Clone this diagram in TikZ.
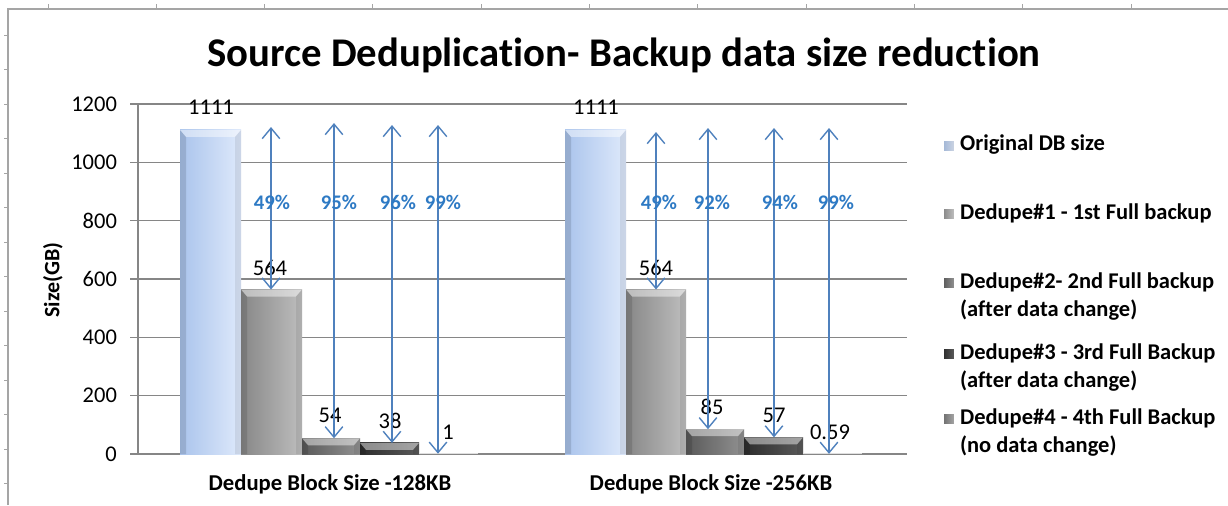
\documentclass[tikz,border=0pt]{standalone}
\usepackage{fontspec}
\setmainfont{Carlito}[Ligatures=NoCommon]
\usetikzlibrary{arrows.meta}
\definecolor{gridcol}{RGB}{134,134,134}
\definecolor{framecol}{RGB}{165,165,165}
\definecolor{arrcol}{RGB}{79,129,189}
\definecolor{pctcol}{RGB}{46,122,196}
\definecolor{origL}{RGB}{170,196,236}
\definecolor{origR}{RGB}{222,233,251}
\definecolor{ddaL}{RGB}{135,135,135}
\definecolor{ddaR}{RGB}{190,190,190}
\definecolor{ddbL}{RGB}{90,90,90}
\definecolor{ddbR}{RGB}{145,145,145}
\definecolor{ddcL}{RGB}{45,45,45}
\definecolor{ddcR}{RGB}{90,90,90}
\definecolor{dddL}{RGB}{110,110,110}
\definecolor{dddR}{RGB}{165,165,165}
\tikzstyle{grid}=[gridcol, line width=0.7pt]
\tikzstyle{tick}=[font=\fontsize{12.8}{14}\selectfont, inner sep=1pt]
\tikzstyle{val}=[font=\fontsize{12.8}{14}\selectfont, inner sep=1pt]
\tikzstyle{pct}=[text=pctcol, font=\fontsize{11.8}{14}\selectfont\bfseries, inner sep=1pt]
\tikzstyle{cat}=[font=\fontsize{12.9}{14}\selectfont\bfseries, inner sep=1pt]
\tikzstyle{legtext}=[font=\fontsize{12.8}{15.9}\selectfont\bfseries, align=left, anchor=west, inner sep=1pt]
\tikzstyle{dedarrow}=[arrcol, line width=0.8pt, {Straight Barb[length=6pt,width=10pt]}-{Straight Barb[length=6pt,width=10pt]}]
% one bar: name, left x, right x, value, left colour, right colour
\newcommand{\chartbar}[6]{%
  \pgfmathsetmacro{\ytop}{454-#4*0.291667}
  \shade[left color=#5, right color=#6] (#2,454) rectangle (#3,\ytop);
  \fill[white, opacity=0.45] (#2,\ytop) -- (#3,\ytop) -- ({#3-6},{\ytop+7}) -- ({#2+6},{\ytop+7}) -- cycle;
  \fill[black, opacity=0.12] (#2,\ytop) -- ({#2+6},{\ytop+7}) -- ({#2+6},454) -- (#2,454) -- cycle;
  \fill[black, opacity=0.08] (#3,\ytop) -- ({#3-6},{\ytop+7}) -- ({#3-6},454) -- (#3,454) -- cycle;
  \coordinate (#1) at ({(#2+#3)/2},\ytop);
}
% one legend key: name, y, left colour, right colour
\newcommand{\legkey}[4]{%
  \shade[left color=#3, right color=#4, draw=white, line width=0.4pt] (943,{#2-5}) rectangle (954,{#2+6});
  \coordinate (#1) at (958,#2);
}

\begin{document}
\begin{tikzpicture}[x=0.02cm, y=-0.02cm]
\useasboundingbox (0,0) rectangle (1228,505);

% page frame with ruler ticks
\draw[framecol, line width=1pt] (8,505) -- (8,9) -- (1228,9);
\foreach \k in {0,...,10} \draw[framecol, line width=0.5pt] ({48+108.3*\k},9) -- ({48+108.3*\k},4);
\foreach \k in {0,...,13} \draw[framecol, line width=0.5pt] (8,{35+34.5*\k}) -- (4,{35+34.5*\k});

\node[font=\fontsize{23.2}{26}\selectfont\bfseries] (title) at (624,55) {Source Deduplication- Backup data size reduction};

% grid and axis
\foreach \v [count=\i] in {0,200,...,1200} {
  \draw[grid] (130,{454-\v*0.291667}) -- (907,{454-\v*0.291667});
  \node[tick, anchor=east] (tk\i) at (119,{454-\v*0.291667}) {\v};
}
\draw[grid] (138,104) -- (138,454);
\node[rotate=90, font=\fontsize{12.5}{14}\selectfont\bfseries] (ylab) at (53,280) {Size(GB)};

% bars, 128KB
\chartbar{ga1}{180}{241}{1111}{origL}{origR}
\chartbar{ga2}{241}{302}{564}{ddaL}{ddaR}
\chartbar{ga3}{302}{360}{54}{ddbL}{ddbR}
\chartbar{ga4}{360}{419}{38}{ddcL}{ddcR}
\draw[gray!25, line width=1pt] (419,453.5) -- (478,453.5);
\coordinate (ga5) at (448,453.7);
% bars, 256KB
\chartbar{gb1}{565}{626}{1111}{origL}{origR}
\chartbar{gb2}{626}{686}{564}{ddaL}{ddaR}
\chartbar{gb3}{686}{744}{85}{ddbL}{ddbR}
\chartbar{gb4}{744}{803}{57}{ddcL}{ddcR}
\draw[gray!25, line width=1pt] (803,453.5) -- (862,453.5);
\coordinate (gb5) at (832,453.8);

% value labels
\node[val] (va1) at (211,107) {1111};
\node[val] (va2) at (270,268) {564};
\node[val] (va3) at (330,415) {54};
\node[val] (va4) at (390,421) {38};
\node[val] (va5) at (448,432) {1};
\node[val] (vb1) at (596,107) {1111};
\node[val] (vb2) at (656,268) {564};
\node[val] (vb3) at (712,407) {85};
\node[val] (vb4) at (774,415) {57};
\node[val] (vb5) at (830,432) {0.59};

% reduction arrows
\coordinate (ua2) at (271,127);
\coordinate (ua3) at (334,123);
\coordinate (ua4) at (392,125);
\coordinate (ua5) at (438,125);
\coordinate (ub2) at (656,132);
\coordinate (ub3) at (708,128);
\coordinate (ub4) at (774,128);
\coordinate (ub5) at (829,128);
\draw[dedarrow] (ua2) -- (ua2 |- ga2);
\draw[dedarrow] (ua3) -- (ua3 |- ga3);
\draw[dedarrow] (ua4) -- (ua4 |- ga4);
\draw[dedarrow] (ua5) -- (ua5 |- ga5);
\draw[dedarrow] (ub2) -- (ub2 |- gb2);
\draw[dedarrow] (ub3) -- (ub3 |- gb3);
\draw[dedarrow] (ub4) -- (ub4 |- gb4);
\draw[dedarrow] (ub5) -- (ub5 |- gb5);
\node[pct] (pa2) at (272,202) {49\%};
\node[pct] (pa3) at (339,202) {95\%};
\node[pct] (pa4) at (398,202) {96\%};
\node[pct] (pa5) at (443,202) {99\%};
\node[pct] (pb2) at (659,202) {49\%};
\node[pct] (pb3) at (712,202) {92\%};
\node[pct] (pb4) at (780,202) {94\%};
\node[pct] (pb5) at (836,202) {99\%};

% category labels
\node[cat] (cata) at (330,484) {Dedupe Block Size -128KB};
\node[cat] (catb) at (711,484) {Dedupe Block Size -256KB};

% legend
\legkey{ka}{145}{origL!80!gray}{origR!80!gray}
\legkey{kb}{213}{ddaL}{ddaR}
\legkey{kc}{282}{ddbL}{ddbR}
\legkey{kd}{353}{ddcL}{ddcR}
\legkey{ke}{418}{dddL}{dddR}
\node[legtext] (la) at (ka) {Original DB size};
\node[legtext] (lb) at (kb) {Dedupe\#1 - 1st Full backup};
\node[legtext, anchor=north west] (lc) at ([yshift=0.23cm]kc) {Dedupe\#2- 2nd Full backup\\(after data change)};
\node[legtext, anchor=north west] (ld) at ([yshift=0.23cm]kd) {Dedupe\#3 - 3rd Full Backup\\(after data change)};
\node[legtext, anchor=north west] (le) at ([yshift=0.23cm]ke) {Dedupe\#4 - 4th Full Backup\\(no data change)};
\end{tikzpicture}
\end{document}
